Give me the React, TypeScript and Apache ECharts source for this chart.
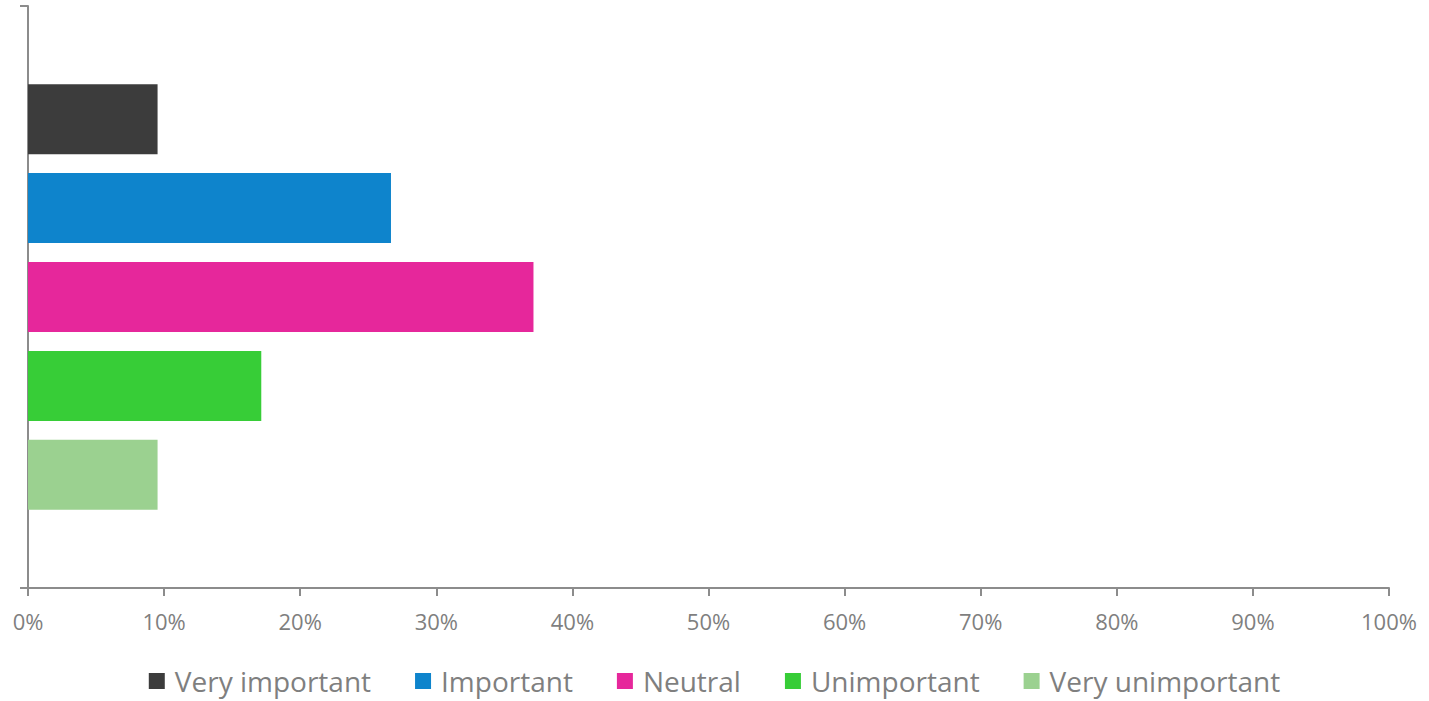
import React, { useEffect, useRef } from "react";
import * as echarts from "echarts";

const categories = [""];
const seriesNames = ["Very important", "Important", "Neutral", "Unimportant", "Very unimportant"];
const seriesValues = [9.52, 26.67, 37.14, 17.14, 9.52];
const seriesColors = ["#3c3c3c", "#0e84cc", "#e6279b", "#37cd37", "#9bd190"];
const xTicks = [0, 10, 20, 30, 40, 50, 60, 70, 80, 90, 100];

export default function App() {
  const ref = useRef<HTMLDivElement>(null);
  useEffect(() => {
    if (!ref.current) return;
    const chart = echarts.init(ref.current, null, { renderer: "svg" });
    const font = "'Open Sans', 'Liberation Sans', sans-serif";
    chart.setOption({
      animation: false,
      textStyle: { fontFamily: font },
      grid: { left: 28, right: 40, top: 6, bottom: 113, containLabel: false },
      legend: {
        bottom: 1,
        left: "center",
        itemWidth: 16,
        itemHeight: 16,
        itemGap: 44,
        icon: "rect",
        data: seriesNames,
        textStyle: { color: "#7f7f7f", fontSize: 28, fontFamily: font, padding: [0, 0, 0, 5] },
      },
      xAxis: {
        type: "value",
        min: xTicks[0],
        max: xTicks[xTicks.length - 1],
        interval: 10,
        axisLine: { show: true, lineStyle: { color: "#8c8c8c", width: 2 } },
        axisTick: { show: true, length: 8, lineStyle: { color: "#8c8c8c", width: 2 } },
        splitLine: { show: false },
        axisLabel: {
          color: "#7f7f7f",
          fontSize: 22,
          margin: 22,
          formatter: (v: number) => `${v}%`,
        },
      },
      yAxis: {
        type: "category",
        data: categories,
        inverse: true,
        axisLine: { show: true, lineStyle: { color: "#8c8c8c", width: 2 } },
        axisTick: { show: true, length: 8, lineStyle: { color: "#8c8c8c", width: 2 } },
        axisLabel: { show: false },
      },
      series: seriesNames.map((name, i) => ({
        name,
        type: "bar",
        data: [seriesValues[i]],
        barWidth: 70,
        barGap: "27%",
        itemStyle: { color: seriesColors[i] },
      })),
    });
    return () => chart.dispose();
  }, []);
  return (
    <div
      ref={ref}
      style={{ position: "fixed", left: 0, top: 0, width: 1429, height: 701, background: "#fff" }}
    />
  );
}
